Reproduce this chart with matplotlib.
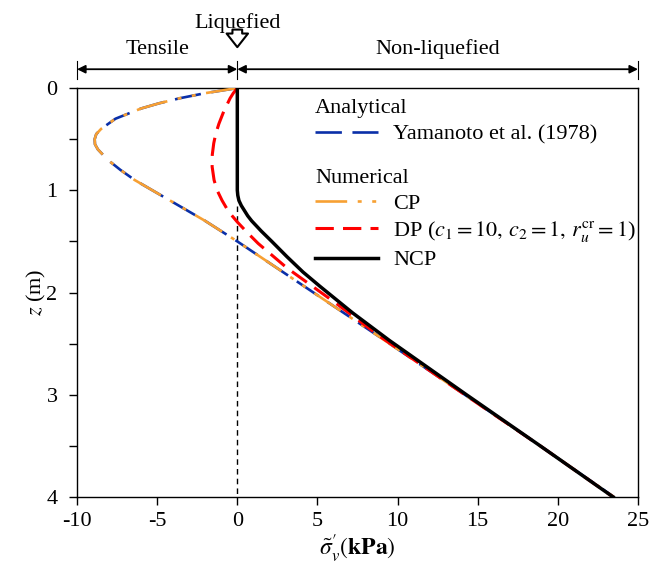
import numpy as np
import matplotlib
matplotlib.use('Agg')
import matplotlib.pyplot as plt

plt.rcParams['font.family'] = ['Liberation Serif', 'DejaVu Serif']
plt.rcParams['mathtext.fontset'] = 'stix'
plt.rcParams['axes.unicode_minus'] = False
plt.rcParams['font.size'] = 16

# analytical solution (Yamanoto et al. 1978)
yam_z = [0, 0.05, 0.1, 0.15, 0.2, 0.3, 0.4, 0.45, 0.5, 0.55, 0.6, 0.7, 0.8, 0.9,
         1.0, 1.1, 1.2, 1.3, 1.4, 1.5, 1.6, 1.8, 2.0, 2.5, 3.0, 3.5, 4.0]
yam_s = [0, -2.0, -3.6, -4.9, -6.0, -7.6, -8.5, -8.8, -8.9, -8.88, -8.7, -8.1,
         -7.3, -6.4, -5.3, -4.2, -3.1, -2.0, -1.0, 0.0, 0.95, 2.85, 4.75, 9.5,
         14.2, 18.9, 23.5]

# numerical: CP
cp_z = [0, 0.05, 0.1, 0.15, 0.2, 0.3, 0.4, 0.45, 0.5, 0.55, 0.6, 0.7, 0.8, 0.9,
        1.0, 1.1, 1.2, 1.3, 1.4, 1.5, 1.6, 1.8, 2.0, 2.5, 3.0, 3.5, 4.0]
cp_s = [0, -2.0, -3.6, -4.9, -6.0, -7.6, -8.5, -8.8, -8.9, -8.88, -8.7, -8.1,
        -7.3, -6.4, -5.3, -4.2, -3.1, -2.0, -1.0, 0.0, 0.95, 2.85, 4.75, 9.5,
        14.2, 18.9, 23.5]

# numerical: DP
dp_z = [0, 0.05, 0.1, 0.23, 0.35, 0.45, 0.54, 0.65, 0.77, 0.9, 1.0, 1.1, 1.21,
        1.31, 1.41, 1.52, 1.76, 2.11, 2.43, 3.0, 3.5, 4.0]
dp_s = [0, -0.25, -0.45, -0.85, -1.15, -1.35, -1.47, -1.56, -1.57, -1.45, -1.26,
        -0.95, -0.54, 0.0, 0.6, 1.3, 3.1, 6.2, 8.9, 14.2, 18.9, 23.45]

# numerical: NCP
ncp_z = [0, 1.0, 1.05, 1.1, 1.15, 1.2, 1.25, 1.3, 1.4, 1.5, 1.65, 1.8, 1.94,
         2.2, 2.47, 3.0, 3.5, 4.0]
ncp_s = [0, 0, 0.03, 0.1, 0.25, 0.45, 0.65, 0.9, 1.5, 2.15, 3.1, 4.1, 5.16,
         7.2, 9.5, 14.3, 18.9, 23.45]

xticks = [-10, -5, 0, 5, 10, 15, 20, 25]
yticks = [0, 1, 2, 3, 4]

fig = plt.figure(figsize=(6.67, 5.68), dpi=100)
ax = fig.add_axes([0.1155, 0.125, 0.841, 0.72])

ax.plot([0, 0], [1.15, 4], color='black', lw=1.0, dashes=(4, 3), zorder=1)
l_yam, = ax.plot(yam_s, yam_z, color='#0a2fa8', lw=1.9, dashes=(10, 4), zorder=2)
l_cp, = ax.plot(cp_s, cp_z, color='#f7a033', lw=1.9,
                dashes=(12, 4, 1.5, 4, 1.5, 4), zorder=3)
l_dp, = ax.plot(dp_s, dp_z, color='#ff0000', lw=2.2, dashes=(6, 3), zorder=4)
l_ncp, = ax.plot(ncp_s, ncp_z, color='black', lw=2.5, zorder=5)

ax.set_xlim(-10, 25)
ax.set_ylim(4, 0)
ax.set_xticks(xticks)
ax.set_yticks(yticks)
ax.set_yticks([0.5, 1.5, 2.5, 3.5], minor=True)
ax.tick_params(which='both', direction='out', length=6, width=1, labelsize=16)
ax.tick_params(axis='y', pad=8)
ax.tick_params(axis='x', pad=5)
for sp in ax.spines.values():
    sp.set_linewidth(1.0)

ax.set_xlabel(r"${\tilde{\sigma}}_{v}^{\prime}\left(\mathbf{kPa}\right)$", fontsize=17, labelpad=1)
ax.set_ylabel(r'$z$ (m)', fontsize=16, labelpad=-1)

# legends
kw = dict(loc='upper left', frameon=False, handlelength=2.85, handletextpad=0.68,
          borderpad=0, borderaxespad=0, labelspacing=0.25, alignment='left',
          title_fontsize=16, fontsize=16)
leg1 = ax.legend([l_yam], ['Yamanoto et al. (1978)'], title='Analytical',
                 bbox_to_anchor=(0.424, 0.972), **kw)
ax.add_artist(leg1)
ax.legend([l_cp, l_dp, l_ncp],
          ['CP', r'DP ($c_1=10,\,c_2=1,\,r_u^{\rm cr}=1$)', 'NCP'],
          title='Numerical', bbox_to_anchor=(0.424, 0.803), **kw)

# annotations above the axes
tr = ax.get_xaxis_transform()
for xa, xb in [(-10, 0), (0, 25)]:
    ax.annotate('', xy=(xa, 1.046), xytext=(xb, 1.046), xycoords=tr, textcoords=tr,
                arrowprops=dict(arrowstyle='<|-|>', color='black', lw=1.3,
                                mutation_scale=12, shrinkA=0, shrinkB=0))
for xv in [-10, 0, 25]:
    ax.plot([xv, xv], [1.022, 1.066], transform=tr, color='black', lw=0.8, clip_on=False)

ax.text(-5, 1.095, 'Tensile', transform=tr, ha='center', va='center', fontsize=16)
ax.text(12.5, 1.095, 'Non-liquefied', transform=tr, ha='center', va='center', fontsize=16)
ax.text(0, 1.16, 'Liquefied', transform=tr, ha='center', va='center', fontsize=16)
ax.annotate('', xy=(0, 1.100), xytext=(0, 1.143), xycoords=tr, textcoords=tr,
            arrowprops=dict(arrowstyle='simple,head_width=1.1,head_length=0.7,tail_width=0.5',
                            fc='white', ec='black', lw=1.5, mutation_scale=14,
                            shrinkA=0, shrinkB=0))

fig.savefig('out.png', dpi=100)
